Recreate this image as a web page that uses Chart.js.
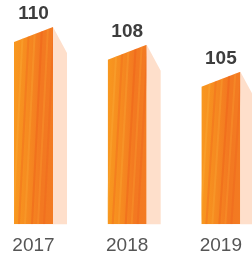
<!DOCTYPE html>
<html>
<head>
<meta charset="utf-8">
<script src="https://cdn.jsdelivr.net/npm/chart.js@4.4.0/dist/chart.umd.min.js"></script>
<style>
  html, body { margin: 0; padding: 0; background: #fff; }
  #wrap { width: 252px; height: 260px; }
</style>
</head>
<body>
<div id="wrap"><canvas id="volume-chart"></canvas></div>
<script>
const years = ['2017', '2018', '2019'];
const values = [110, 108, 105];
// hidden value axis range
const yMin = 88;
const yMax = 113;

// streaks inside each bar: offset from left edge, colour
const streaks = [
    [3, 'rgba(249,166,50,0.5)'],
    [9, 'rgba(240,96,28,0.35)'],
    [15, 'rgba(250,170,55,0.35)'],
    [22, 'rgba(238,92,26,0.4)'],
    [28, 'rgba(248,160,48,0.35)'],
    [34, 'rgba(238,96,28,0.35)']
];

// draws each bar as a little prism with a slanted top and a pale side
const prismBars = {
    id: 'prismBars',
    afterDatasetsDraw(chart) {
        const ctx = chart.ctx;
        const meta = chart.getDatasetMeta(0);
        meta.data.forEach(function (bar, i) {
            const left = bar.x - bar.width / 2;
            const right = bar.x + bar.width / 2;
            const top = bar.y;
            const bottom = Math.min(bar.base, chart.chartArea.bottom);

            ctx.save();
            // side face
            ctx.fillStyle = '#FEDFCB';
            ctx.beginPath();
            ctx.moveTo(right, top);
            ctx.lineTo(right + 14, top + 26);
            ctx.lineTo(right + 14, bottom);
            ctx.lineTo(right, bottom);
            ctx.closePath();
            ctx.fill();

            // front face
            ctx.beginPath();
            ctx.moveTo(left, top + 15);
            ctx.lineTo(right, top);
            ctx.lineTo(right, bottom);
            ctx.lineTo(left, bottom);
            ctx.closePath();
            ctx.clip();
            const g = ctx.createLinearGradient(left, 0, right, 0);
            g.addColorStop(0, '#F8981F');
            g.addColorStop(0.35, '#F68A20');
            g.addColorStop(0.7, '#F37821');
            g.addColorStop(1, '#F37B22');
            ctx.fillStyle = g;
            ctx.fillRect(left, top, bar.width, bottom - top);
            streaks.forEach(function (s) {
                ctx.strokeStyle = s[1];
                ctx.lineWidth = 2;
                ctx.beginPath();
                ctx.moveTo(left + s[0] - 4, bottom);
                ctx.lineTo(left + s[0] + 6, top);
                ctx.stroke();
            });
            ctx.restore();

            // value on top
            ctx.save();
            ctx.fillStyle = '#3d3d3d';
            ctx.font = 'bold 19px "Liberation Sans", sans-serif';
            ctx.textAlign = 'center';
            ctx.textBaseline = 'alphabetic';
            ctx.fillText(values[i], bar.x, top - 8);
            ctx.restore();
        });
    }
};

const chartCanvas = document.getElementById('volume-chart').getContext('2d');

const volumeChart = new Chart(chartCanvas, {
    type: 'bar',
    data: {
        labels: years,
        datasets: [{
            data: values,
            backgroundColor: 'rgba(0,0,0,0)',
            borderWidth: 0,
            barThickness: 39
        }]
    },
    options: {
        responsive: true,
        maintainAspectRatio: false,
        animation: false,
        plugins: {
            legend: { display: false },
            tooltip: { enabled: false }
        },
        layout: {
            padding: { left: 33.5, right: 28.5, top: 0, bottom: -7 }
        },
        scales: {
            x: {
                offset: false,
                grid: { display: false, drawTicks: false },
                border: { display: false },
                ticks: {
                    padding: 10,
                    color: '#555555',
                    font: { family: '"Liberation Sans", sans-serif', size: 19 }
                }
            },
            y: {
                display: false,
                min: yMin,
                max: yMax
            }
        }
    },
    plugins: [prismBars]
});
</script>
</body>
</html>
